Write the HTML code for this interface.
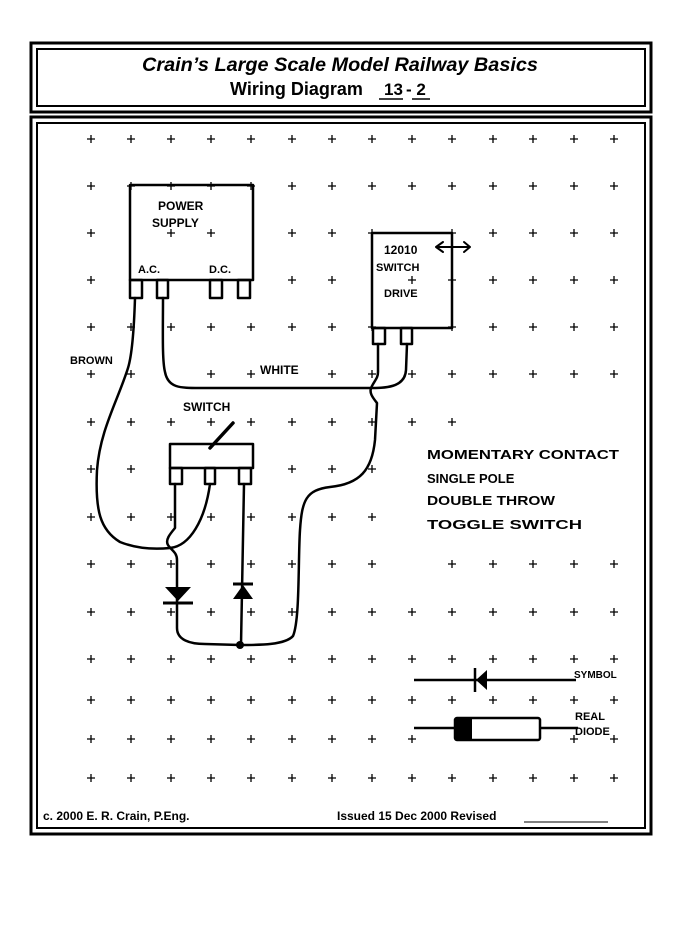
<!DOCTYPE html>
<html><head><style>
html,body{margin:0;padding:0;background:#fff;}
svg{display:block;}
.h{font-family:"Liberation Sans",sans-serif;font-weight:bold;fill:#000;}
.w{font-family:"Liberation Sans",sans-serif;font-weight:bold;fill:#000;}
</style></head><body>
<svg width="680" height="936" viewBox="0 0 680 936" xmlns="http://www.w3.org/2000/svg">
<rect width="680" height="936" fill="#fff"/>
<g fill="none" stroke="#000">
<rect x="31" y="43" width="620" height="69" stroke-width="3"/>
<rect x="37" y="49" width="608" height="57" stroke-width="2"/>
<rect x="31" y="117" width="620" height="717" stroke-width="3"/>
<rect x="37" y="123" width="608" height="705" stroke-width="2"/>
</g>
<text class="h" x="340" y="71" font-size="19" font-style="italic" text-anchor="middle" textLength="396" lengthAdjust="spacingAndGlyphs">Crain’s Large Scale Model Railway Basics</text>
<text class="h" x="230" y="95" font-size="18">Wiring Diagram</text>
<text class="h" x="384" y="95" font-size="17">13</text>
<text class="h" x="406" y="95" font-size="17">- 2</text>
<line x1="379" y1="99" x2="403" y2="99" stroke="#000" stroke-width="1.5"/>
<line x1="412" y1="99" x2="430" y2="99" stroke="#000" stroke-width="1.5"/>
<g stroke="#000" stroke-width="1.3" fill="none">
<path d="M87 139h8M91 135v8 M127 139h8M131 135v8 M167 139h8M171 135v8 M207 139h8M211 135v8 M247 139h8M251 135v8 M288 139h8M292 135v8 M328 139h8M332 135v8 M368 139h8M372 135v8 M408 139h8M412 135v8 M448 139h8M452 135v8 M489 139h8M493 135v8 M529 139h8M533 135v8 M570 139h8M574 135v8 M610 139h8M614 135v8"/>
<path d="M87 186h8M91 182v8 M127 186h8M131 182v8 M167 186h8M171 182v8 M207 186h8M211 182v8 M247 186h8M251 182v8 M288 186h8M292 182v8 M328 186h8M332 182v8 M368 186h8M372 182v8 M408 186h8M412 182v8 M448 186h8M452 182v8 M489 186h8M493 182v8 M529 186h8M533 182v8 M570 186h8M574 182v8 M610 186h8M614 182v8"/>
<path d="M87 233h8M91 229v8 M167 233h8M171 229v8 M207 233h8M211 229v8 M288 233h8M292 229v8 M328 233h8M332 229v8 M368 233h8M372 229v8 M448 233h8M452 229v8 M489 233h8M493 229v8 M529 233h8M533 229v8 M570 233h8M574 229v8 M610 233h8M614 229v8"/>
<path d="M87 280h8M91 276v8 M288 280h8M292 276v8 M328 280h8M332 276v8 M408 280h8M412 276v8 M448 280h8M452 276v8 M489 280h8M493 276v8 M529 280h8M533 276v8 M570 280h8M574 276v8 M610 280h8M614 276v8"/>
<path d="M87 327h8M91 323v8 M127 327h8M131 323v8 M167 327h8M171 323v8 M207 327h8M211 323v8 M247 327h8M251 323v8 M288 327h8M292 323v8 M328 327h8M332 323v8 M368 327h8M372 323v8 M448 327h8M452 323v8 M489 327h8M493 323v8 M529 327h8M533 323v8 M570 327h8M574 323v8 M610 327h8M614 323v8"/>
<path d="M87 374h8M91 370v8 M127 374h8M131 370v8 M207 374h8M211 370v8 M247 374h8M251 370v8 M328 374h8M332 370v8 M368 374h8M372 370v8 M408 374h8M412 370v8 M448 374h8M452 370v8 M489 374h8M493 370v8 M529 374h8M533 370v8 M570 374h8M574 370v8 M610 374h8M614 370v8"/>
<path d="M87 422h8M91 418v8 M127 422h8M131 418v8 M167 422h8M171 418v8 M207 422h8M211 418v8 M247 422h8M251 418v8 M288 422h8M292 418v8 M328 422h8M332 418v8 M368 422h8M372 418v8 M408 422h8M412 418v8 M448 422h8M452 418v8"/>
<path d="M87 469h8M91 465v8 M127 469h8M131 465v8 M288 469h8M292 465v8 M328 469h8M332 465v8 M368 469h8M372 465v8"/>
<path d="M87 517h8M91 513v8 M127 517h8M131 513v8 M167 517h8M171 513v8 M207 517h8M211 513v8 M247 517h8M251 513v8 M288 517h8M292 513v8 M328 517h8M332 513v8 M368 517h8M372 513v8"/>
<path d="M87 564h8M91 560v8 M127 564h8M131 560v8 M167 564h8M171 560v8 M207 564h8M211 560v8 M247 564h8M251 560v8 M288 564h8M292 560v8 M328 564h8M332 560v8 M368 564h8M372 560v8 M610 564h8M614 560v8 M570 564h8M574 560v8 M529 564h8M533 560v8 M489 564h8M493 560v8 M448 564h8M452 560v8"/>
<path d="M87 612h8M91 608v8 M127 612h8M131 608v8 M167 612h8M171 608v8 M207 612h8M211 608v8 M247 612h8M251 608v8 M288 612h8M292 608v8 M328 612h8M332 608v8 M368 612h8M372 608v8 M408 612h8M412 608v8 M448 612h8M452 608v8 M489 612h8M493 608v8 M529 612h8M533 608v8 M570 612h8M574 608v8 M610 612h8M614 608v8"/>
<path d="M87 659h8M91 655v8 M127 659h8M131 655v8 M167 659h8M171 655v8 M207 659h8M211 655v8 M247 659h8M251 655v8 M288 659h8M292 655v8 M328 659h8M332 655v8 M368 659h8M372 655v8 M408 659h8M412 655v8 M448 659h8M452 655v8 M489 659h8M493 655v8 M529 659h8M533 655v8 M570 659h8M574 655v8 M610 659h8M614 655v8"/>
<path d="M87 700h8M91 696v8 M127 700h8M131 696v8 M167 700h8M171 696v8 M207 700h8M211 696v8 M247 700h8M251 696v8 M288 700h8M292 696v8 M328 700h8M332 696v8 M368 700h8M372 696v8 M408 700h8M412 696v8 M448 700h8M452 696v8 M489 700h8M493 696v8 M529 700h8M533 696v8 M570 700h8M574 696v8 M610 700h8M614 696v8"/>
<path d="M87 739h8M91 735v8 M127 739h8M131 735v8 M167 739h8M171 735v8 M207 739h8M211 735v8 M247 739h8M251 735v8 M288 739h8M292 735v8 M328 739h8M332 735v8 M368 739h8M372 735v8 M408 739h8M412 735v8 M570 739h8M574 735v8 M610 739h8M614 735v8"/>
<path d="M87 778h8M91 774v8 M127 778h8M131 774v8 M167 778h8M171 774v8 M207 778h8M211 774v8 M247 778h8M251 774v8 M288 778h8M292 774v8 M328 778h8M332 774v8 M368 778h8M372 774v8 M408 778h8M412 774v8 M448 778h8M452 774v8 M489 778h8M493 774v8 M529 778h8M533 774v8 M570 778h8M574 774v8 M610 778h8M614 774v8"/>
</g>
<g fill="none" stroke="#000" stroke-width="2.5" stroke-linejoin="round" stroke-linecap="round">
<rect x="130" y="185" width="123" height="95"/>
<rect x="130" y="280" width="12" height="18"/>
<rect x="157" y="280" width="11" height="18"/>
<rect x="210" y="280" width="12" height="18"/>
<rect x="238" y="280" width="12" height="18"/>
<rect x="372" y="233" width="80" height="95"/>
<rect x="373" y="328" width="12" height="16"/>
<rect x="401" y="328" width="11" height="16"/>
<rect x="170" y="444" width="83" height="24" fill="#fff"/>
<rect x="170" y="468" width="12" height="16"/>
<rect x="205" y="468" width="10" height="16"/>
<rect x="239" y="468" width="12" height="16"/>
<line x1="210" y1="448" x2="233" y2="423" stroke-width="3.5"/>
<path d="M436 247 H470 M443 242 L436 247 L443 252 M464 242 L470 247 L464 252" stroke-width="2"/>
<path d="M163 298 C163 330 162 360 165 372 C168 388 180 388 200 388 L368 388 C385 388 405 388 406 370 L407 344"/>
<path d="M135 298 C134 330 132 355 128 368 C118 400 100 430 97 470 C95 510 100 530 120 542 C140 550 160 549 170 548 C190 546 205 520 210 484"/>
<path d="M175 484 L175 528 C170 534 165 540 168 545 C171 550 177 552 177 560 L177 628 C177 640 190 644 205 644 L240 645 C260 645 285 645 293 636 C300 620 298 560 300 530 C302 500 306 490 330 487 C360 484 372 470 375 440 L377 403 C373 398 368 392 372 386 C375 380 378 378 378 372 L378 344"/>
<path d="M244 484 L241 645"/>
</g>
<circle cx="240" cy="645" r="4" fill="#000"/>
<polygon points="165,587 191,587 178,601" fill="#000"/>
<line x1="163" y1="603" x2="193" y2="603" stroke="#000" stroke-width="3"/>
<polygon points="233,599 253,599 243,585" fill="#000"/>
<line x1="233" y1="584" x2="253" y2="584" stroke="#000" stroke-width="3"/>
<g stroke="#000" stroke-width="2.5" fill="none">
<line x1="414" y1="680" x2="576" y2="680"/>
<line x1="475" y1="668" x2="475" y2="692"/>
<line x1="414" y1="728" x2="455" y2="728"/>
<line x1="540" y1="728" x2="578" y2="728"/>
<rect x="455" y="718" width="85" height="22" rx="2"/>
</g>
<polygon points="476,680 487,670 487,690" fill="#000"/>
<rect x="455" y="718" width="17" height="22" fill="#000"/>
<g class="w" font-size="12">
<text x="158" y="210">POWER</text>
<text x="152" y="227">SUPPLY</text>
<text x="138" y="273" font-size="11">A.C.</text>
<text x="209" y="273" font-size="11">D.C.</text>
<text x="384" y="254">12010</text>
<text x="376" y="271" font-size="11">SWITCH</text>
<text x="384" y="297" font-size="11">DRIVE</text>
<text x="70" y="364" font-size="11">BROWN</text>
<text x="260" y="374">WHITE</text>
<text x="183" y="411">SWITCH</text>
<text x="427" y="459" font-size="13" textLength="192" lengthAdjust="spacingAndGlyphs">MOMENTARY CONTACT</text>
<text x="427" y="483" font-size="13">SINGLE POLE</text>
<text x="427" y="505" font-size="13" textLength="128" lengthAdjust="spacingAndGlyphs">DOUBLE THROW</text>
<text x="427" y="529" font-size="13" textLength="155" lengthAdjust="spacingAndGlyphs">TOGGLE SWITCH</text>
<text x="574" y="678" font-size="10">SYMBOL</text>
<text x="575" y="720" font-size="11">REAL</text>
<text x="575" y="735" font-size="11">DIODE</text>
</g>
<text class="h" x="43" y="820" font-size="12">c. 2000 E. R. Crain, P.Eng.</text>
<text class="h" x="337" y="820" font-size="12">Issued 15 Dec 2000 Revised</text>
<line x1="524" y1="822" x2="608" y2="822" stroke="#000" stroke-width="1"/>
</svg>
</body></html>
